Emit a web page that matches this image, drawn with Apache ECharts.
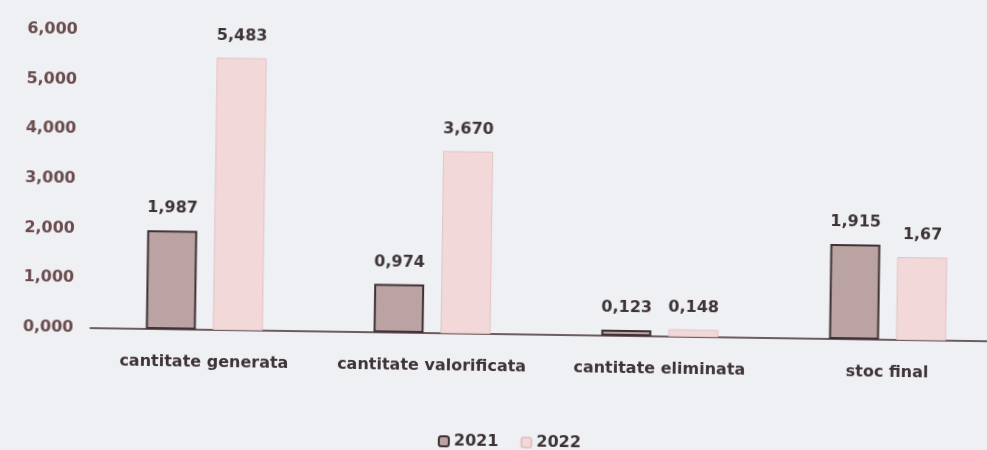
<!DOCTYPE html>
<html>
<head>
<meta charset="utf-8">
<script src="https://cdn.jsdelivr.net/npm/echarts@6/dist/echarts.min.js"></script>
<style>
html,body{margin:0;padding:0;background:#eef0f3;overflow:hidden;width:987px;height:450px;}
#chart{width:1003px;height:450px;transform:rotate(0.84deg);transform-origin:493px 225px;}
</style>
</head>
<body>
<div id="chart"></div>
<script>
const categories = ['cantitate generata', 'cantitate valorificata', 'cantitate eliminata', 'stoc final'];
const seriesNames = ['2021', '2022'];
const values2021 = [1.987, 0.974, 0.123, 1.915];
const values2022 = [5.483, 3.670, 0.148, 1.67];
const labels2021 = ['1,987', '0,974', '0,123', '1,915'];
const labels2022 = ['5,483', '3,670', '0,148', '1,67'];
const yTicks = [0, 1, 2, 3, 4, 5, 6];

const chart = echarts.init(document.getElementById('chart'));
const fontFam = '"DejaVu Sans", sans-serif';
const labelStyle = {
  show: true, position: 'top', distance: 14,
  color: '#3e3336', fontSize: 16, fontWeight: 'bold', fontFamily: fontFam
};
chart.setOption({
  backgroundColor: '#eef0f3',
  animation: false,
  grid: { left: 92, right: 0, top: 36, bottom: 116 },
  legend: {
    top: 429, left: 436,
    itemWidth: 10, itemHeight: 10, itemGap: 22,
    textStyle: { color: '#3e3336', fontSize: 16, fontWeight: 'bold', fontFamily: fontFam },
    data: seriesNames
  },
  xAxis: {
    type: 'category', data: categories,
    axisLine: { lineStyle: { color: '#6e5c60', width: 2 } },
    axisTick: { show: false },
    axisLabel: { interval: 0, color: '#3e3336', fontSize: 16, fontWeight: 'bold', fontFamily: fontFam, margin: 25 }
  },
  yAxis: {
    type: 'value', min: yTicks[0], max: yTicks[yTicks.length - 1], interval: 1,
    splitLine: { show: false },
    axisLine: { show: false },
    axisLabel: {
      color: '#6a4a4c', fontSize: 16, fontWeight: 'bold', fontFamily: fontFam, margin: 17,
      formatter: v => v.toFixed(3).replace('.', ',')
    }
  },
  series: [
    {
      name: seriesNames[0], type: 'bar', data: values2021,
      barWidth: 50, barGap: '34%',
      itemStyle: { color: '#bba3a4', borderColor: '#3f3234', borderWidth: 2 },
      label: Object.assign({}, labelStyle, { formatter: p => labels2021[p.dataIndex] })
    },
    {
      name: seriesNames[1], type: 'bar', data: values2022,
      barWidth: 50,
      itemStyle: { color: '#f3d8d9', borderColor: '#e2c3c4', borderWidth: 1 },
      label: Object.assign({}, labelStyle, { formatter: p => labels2022[p.dataIndex] })
    }
  ]
});
</script>
</body>
</html>
